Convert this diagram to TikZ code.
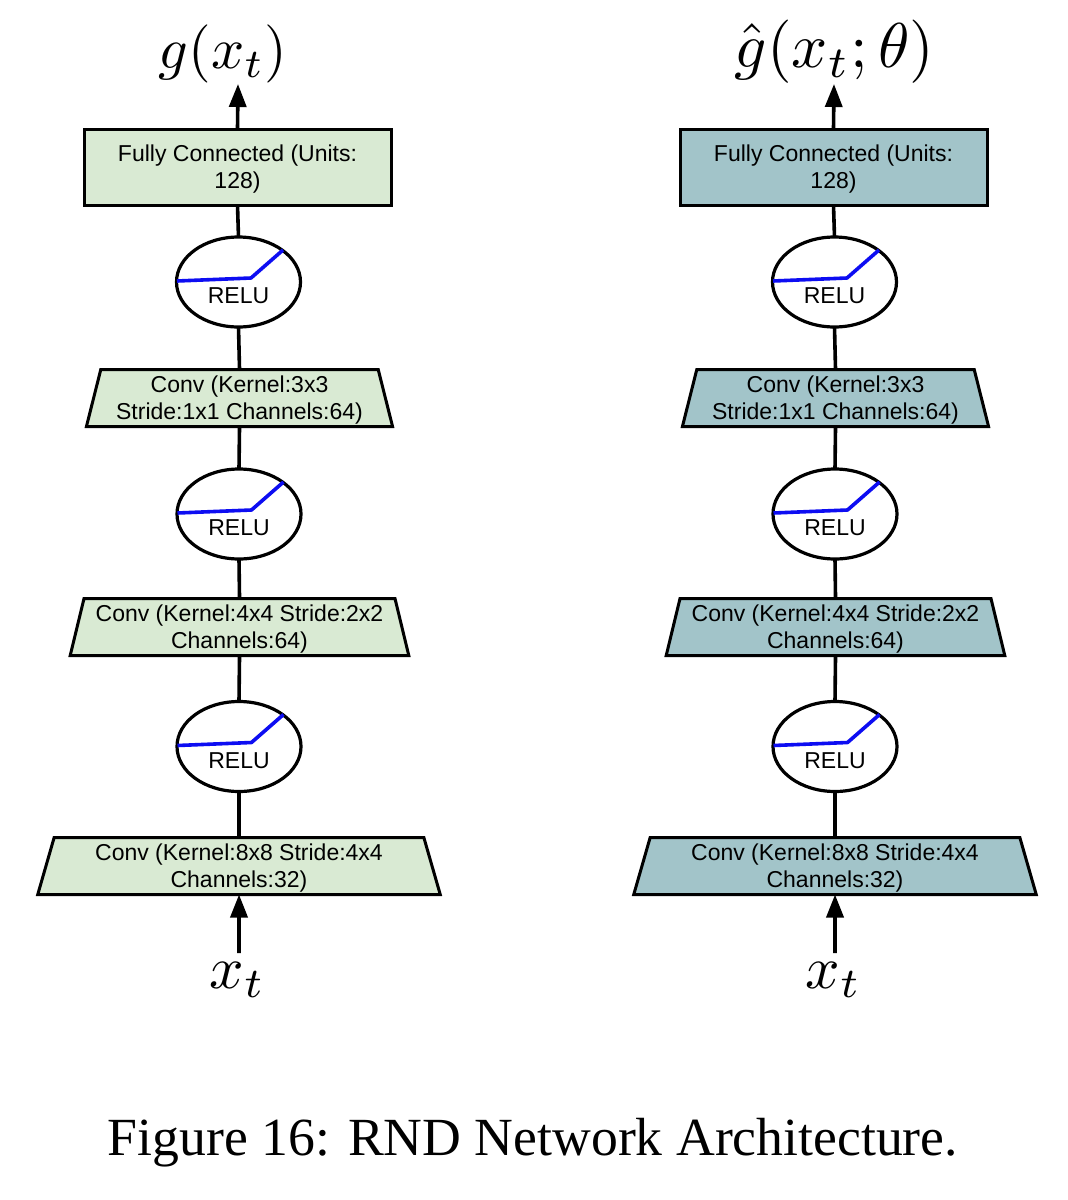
\documentclass[tikz,border=0pt]{standalone}
\usepackage{fontspec}
\setmainfont{Liberation Sans}
\newfontfamily\capfont{Liberation Serif}
\usetikzlibrary{arrows.meta,shapes.geometric}
\definecolor{lgreen}{HTML}{D9EAD3}
\definecolor{lteal}{HTML}{A2C4C9}
\definecolor{relublue}{rgb}{0.05,0.05,0.95}
\tikzset{
  x=1pt,y=-1pt,
  blockbase/.style={draw=black,line width=3pt,align=center,inner sep=0pt,outer sep=0pt,line join=miter,
    font=\fontsize{23}{27}\selectfont},
  fcbox/.style={blockbase,rectangle,minimum width=307pt,minimum height=76pt},
  convbox/.style={blockbase,trapezium,trapezium stretches=true,minimum height=57pt},
  relu/.style={draw=black,line width=3.2pt,fill=white,ellipse,inner sep=0pt,outer sep=0pt,minimum width=124pt,minimum height=90pt},
  relutext/.style={inner sep=0pt,font=\fontsize{23}{27}\selectfont},
  link/.style={line width=3.6pt},
  arrowlink/.style={line width=3.6pt,-{Triangle[length=23pt,width=17pt]}},
  bluecurve/.style={draw=relublue,line width=3.6pt,line join=round},
  mathlabel/.style={inner sep=0pt},
  caption/.style={inner sep=0pt,font=\capfont\fontsize{53.7}{60}\selectfont}
}
\newcommand{\twol}[2]{\raisebox{-3pt}[\height][\depth]{\begin{tabular}{@{}c@{}}#1\\#2\end{tabular}}}
\newcommand{\relunode}[3]{% name, x, y
  \node[relu] (#1) at (#2,#3) {};
  \draw[bluecurve] ([shift={(-61.5,-1)}]#1.center) -- ([shift={(12.5,-4)}]#1.center) -- ([shift={(44.5,-32)}]#1.center);
  \node[relutext] (#1t) at ([shift={(0,13.8)}]#1.center) {RELU};
}
\newcommand{\netcolumn}[3]{% prefix, dx, fill
  \begin{scope}[xshift=#2pt]
  \node[fcbox,fill=#3] (#1fc) at (237.5,167) {\twol{Fully Connected (Units:}{128)}};
  \relunode{#1ra}{238.5}{282}
  \node[convbox,fill=#3,minimum width=307pt,trapezium left angle=76.7,trapezium right angle=76.7] (#1ca) at (239.5,398) {\twol{Conv (Kernel:3x3}{Stride:1x1 Channels:64)}};
  \relunode{#1rb}{239}{514}
  \node[convbox,fill=#3,minimum width=339pt,trapezium left angle=76.7,trapezium right angle=76.7] (#1cb) at (239.5,627) {\twol{Conv (Kernel:4x4 Stride:2x2}{Channels:64)}};
  \relunode{#1rc}{239}{746.5}
  \node[convbox,fill=#3,minimum width=403pt,trapezium left angle=76.7,trapezium right angle=76.7] (#1cc) at (239,866) {\twol{Conv (Kernel:8x8 Stride:4x4}{Channels:32)}};
  \coordinate (#1in) at (239,953);
  \coordinate (#1out) at (238,84);
  \draw[link] (#1fc.south) -- (#1ra.north);
  \draw[link] (#1ra.south) -- (#1ca.north);
  \draw[link] (#1ca.south) -- (#1rb.north);
  \draw[link] (#1rb.south) -- (#1cb.north);
  \draw[link] (#1cb.south) -- (#1rc.north);
  \draw[link] (#1rc.south) -- (#1cc.north);
  \draw[arrowlink] (#1in) -- (#1cc.south);
  \draw[arrowlink] (#1fc.north) -- (#1out);
  \node[mathlabel] (#1xt) at (237.5,980) {\scalebox{6.05}{$x_t$}};
  \end{scope}
}
\begin{document}
\begin{tikzpicture}
\useasboundingbox[fill=white] (0,0) rectangle (1068,1200);
\netcolumn{l}{0}{lgreen}
\netcolumn{r}{596}{lteal}
\node[mathlabel] (lg) at (223,54) {\scalebox{5.82}{$g(x_t)$}};
\node[mathlabel] (rg) at (834.5,52) {\scalebox{6.33}{$\hat g(x_t;\theta)$}};
\node[caption] (cap) at (533,1143) {Figure 16: RND Network Architecture.};
\end{tikzpicture}
\end{document}
